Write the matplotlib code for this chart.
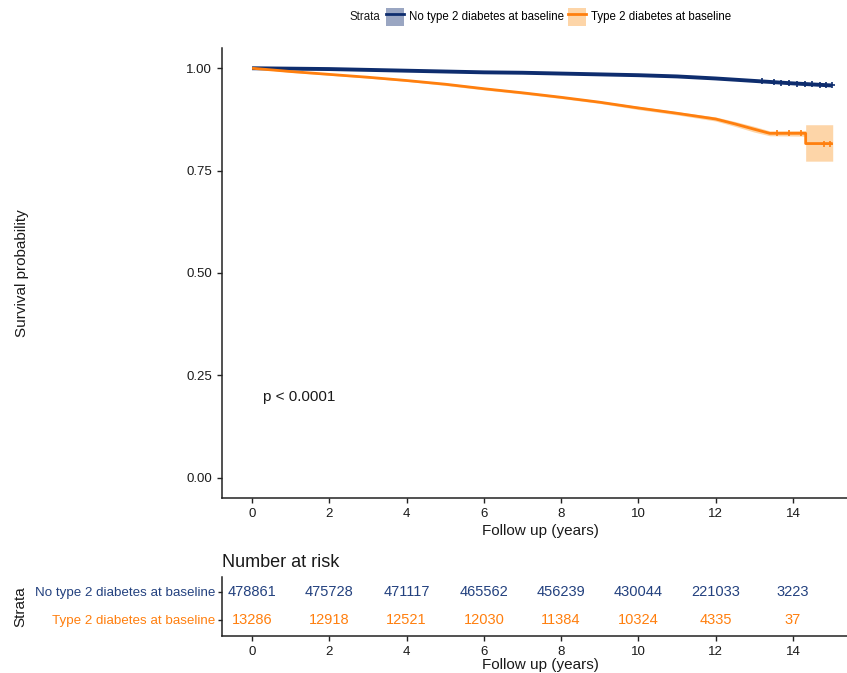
import numpy as np
import matplotlib.pyplot as plt
from matplotlib.patches import Patch
from matplotlib.lines import Line2D
from matplotlib.legend_handler import HandlerTuple

plt.rcParams['font.family'] = ['Liberation Sans', 'DejaVu Sans']

# Kaplan-Meier estimates read at yearly follow-up times
strata = ['No type 2 diabetes at baseline', 'Type 2 diabetes at baseline']

t_no = [0, 1, 2, 3, 4, 5, 6, 7, 8, 9, 10, 11, 12, 13, 14, 15]
s_no = [1.000, 0.999, 0.998, 0.996, 0.994, 0.992, 0.990, 0.989, 0.987,
        0.985, 0.983, 0.980, 0.975, 0.969, 0.963, 0.958]
lo_no = [1.000, 0.999, 0.998, 0.996, 0.994, 0.992, 0.990, 0.988, 0.986,
         0.984, 0.982, 0.979, 0.974, 0.968, 0.961, 0.955]
hi_no = [1.000, 0.999, 0.998, 0.996, 0.994, 0.992, 0.990, 0.990, 0.988,
         0.986, 0.984, 0.981, 0.976, 0.970, 0.965, 0.961]

t_t2d = [0, 1, 2, 3, 4, 5, 6, 7, 8, 9, 10, 11, 12, 12.5, 13, 13.4, 14.33, 14.33, 15.03]
s_t2d = [1.000, 0.992, 0.985, 0.978, 0.970, 0.961, 0.950, 0.940, 0.929, 0.917,
         0.903, 0.890, 0.876, 0.864, 0.851, 0.841, 0.841, 0.816, 0.816]
lo_t2d = [1.000, 0.990, 0.983, 0.976, 0.968, 0.958, 0.947, 0.937, 0.926, 0.914,
          0.899, 0.886, 0.871, 0.858, 0.844, 0.835, 0.834, 0.773, 0.773]
hi_t2d = [1.000, 0.994, 0.987, 0.980, 0.972, 0.964, 0.953, 0.943, 0.932, 0.920,
          0.907, 0.894, 0.881, 0.870, 0.858, 0.847, 0.848, 0.862, 0.862]

# censoring ticks near the end of follow-up
cens_no = [13.2, 13.5, 13.7, 13.9, 14.1, 14.3, 14.5, 14.7, 14.85, 15.0]
cens_t2d = [13.6, 13.9, 14.2, 14.8, 14.95]

p_text = 'p < 0.0001'

risk_times = [0, 2, 4, 6, 8, 10, 12, 14]
risk_no = [478861, 475728, 471117, 465562, 456239, 430044, 221033, 3223]
risk_t2d = [13286, 12918, 12521, 12030, 11384, 10324, 4335, 37]

blue = '#0e2d6e'
blue_txt = '#23417f'
blue_fill = '#9aa6c2'
orange = '#ff7f0e'
orange_fill = '#fdd5a8'
dark = '#1a1a1a'

fig = plt.figure(figsize=(8.47, 6.73), dpi=100)
ax = fig.add_axes([0.262, 0.260, 0.738, 0.669])
ax_tab = fig.add_axes([0.262, 0.055, 0.738, 0.088])

xlim = (-0.78, 15.4)

# survival curves
ax.fill_between(t_no, lo_no, hi_no, color=blue_fill, lw=0, alpha=0.6)
ax.fill_between(t_t2d, lo_t2d, hi_t2d, color=orange_fill, lw=0)
ax.plot(t_no, s_no, color=blue, lw=2.8, solid_capstyle='butt')
ax.plot(t_t2d, s_t2d, color=orange, lw=2.0, solid_capstyle='butt')
ax.plot(cens_no, np.interp(cens_no, t_no, s_no), ls='none', marker='+',
        ms=5, mew=1.2, color=blue)
ax.plot(cens_t2d, np.interp(cens_t2d, t_t2d, s_t2d), ls='none', marker='+',
        ms=5, mew=1.2, color=orange)

ax.text(0.28, 0.196, p_text, ha='left', va='center', fontsize=11, color=dark)

ax.set_xlim(*xlim)
ax.set_ylim(-0.05, 1.05)
ax.set_xticks(range(0, 15, 2))
ax.set_yticks([0, 0.25, 0.5, 0.75, 1.0])
ax.set_yticklabels(['0.00', '0.25', '0.50', '0.75', '1.00'])
ax.set_xlabel('Follow up (years)', fontsize=11, color=dark)
ax.xaxis.set_label_coords(0.51, -0.057)
ax.set_ylabel('Survival probability', fontsize=11, color=dark)
ax.yaxis.set_label_coords(-0.309, 0.5)

for a in (ax, ax_tab):
    a.spines['top'].set_visible(False)
    a.spines['right'].set_visible(False)
    for s in ('left', 'bottom'):
        a.spines[s].set_linewidth(1.1)
        a.spines[s].set_color('#222222')
    a.tick_params(labelsize=9.5, colors='#222222', labelcolor=dark,
                  length=3.5, width=1)

# number at risk table
rows = [2, 1]
for n_list, row, col in ((risk_no, rows[0], blue_txt), (risk_t2d, rows[1], orange)):
    for t, n in zip(risk_times, n_list):
        ax_tab.text(t, row, str(n), ha='center', va='center',
                    fontsize=10.5, color=col)

ax_tab.set_xlim(*xlim)
ax_tab.set_ylim(0.43, 2.54)
ax_tab.set_xticks(risk_times)
ax_tab.set_yticks(rows)
ax_tab.set_yticklabels(strata, fontsize=9.6)
ax_tab.tick_params(axis='y', length=3, pad=2)
for lab, col in zip(ax_tab.get_yticklabels(), (blue_txt, orange)):
    lab.set_color(col)
ax_tab.set_title('Number at risk', loc='left', fontsize=13, color=dark, pad=7)
ax_tab.set_xlabel('Follow up (years)', fontsize=11, color=dark)
ax_tab.xaxis.set_label_coords(0.51, -0.38)
ax_tab.set_ylabel('Strata', fontsize=11, color=dark)
ax_tab.yaxis.set_label_coords(-0.312, 0.5)

# legend across the top
handles = [(Patch(fc=blue_fill, ec='none'), Line2D([], [], color=blue, lw=2)),
           (Patch(fc=orange_fill, ec='none'), Line2D([], [], color=orange, lw=2))]
fig.text(0.413, 0.975, 'Strata', ha='left', va='center', fontsize=8.3, color=dark)
fig.legend(handles, strata, handler_map={tuple: HandlerTuple(ndivide=1)},
           ncol=2, loc='center left', bbox_to_anchor=(0.456, 0.975),
           frameon=False, fontsize=8.3, handlelength=1.5, handleheight=2.0,
           handletextpad=0.5, columnspacing=0.35, borderpad=0, borderaxespad=0)

fig.savefig('out.png', dpi=100)
